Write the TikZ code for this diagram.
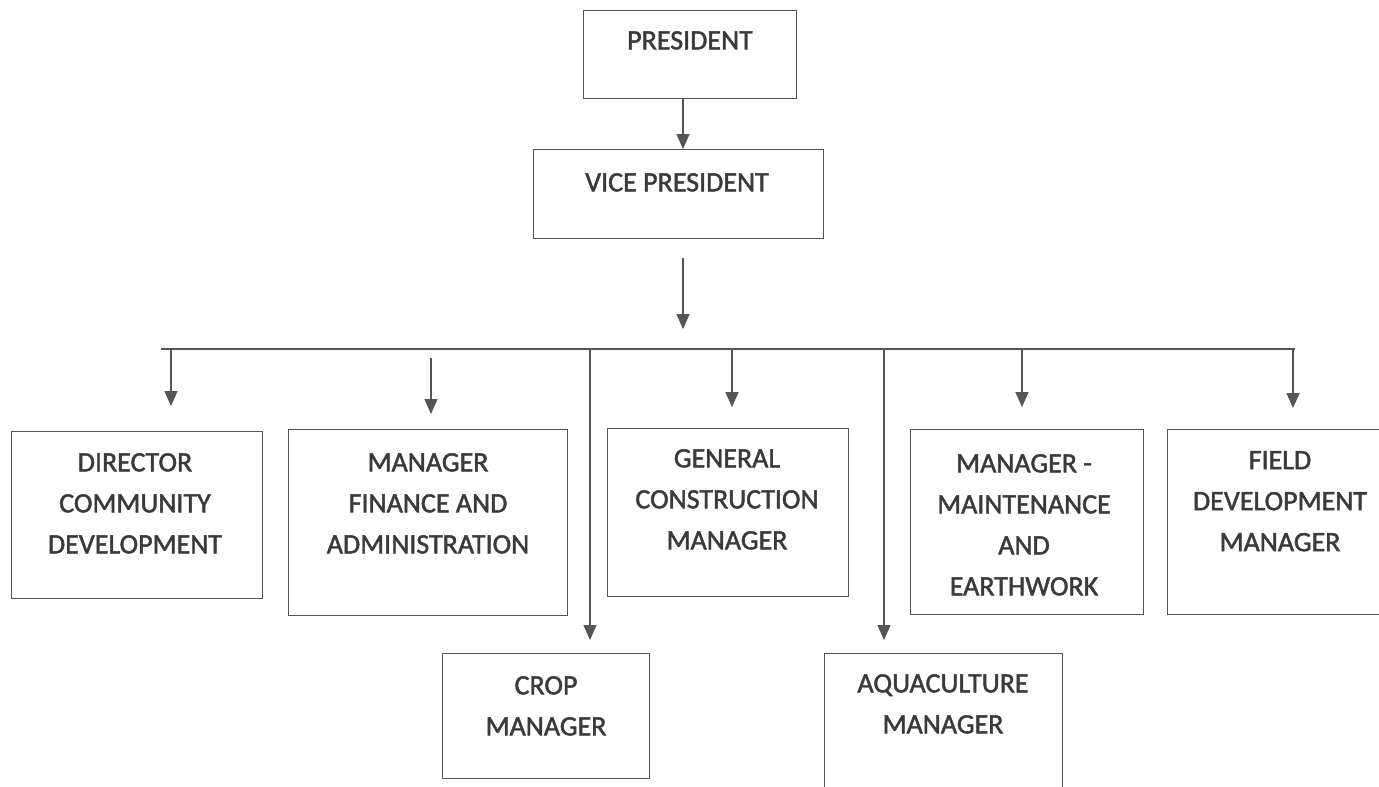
\documentclass[tikz,border=0pt]{standalone}
\usepackage{fontspec}
\setmainfont{Carlito}[FakeBold=1.6]
\usetikzlibrary{arrows.meta}
\definecolor{linegray}{HTML}{555555}
\definecolor{txtgray}{HTML}{3A3A3A}
\tikzset{
  boxnode/.style={draw=linegray, line width=1.3pt, rectangle, inner sep=0pt, anchor=north west},
  lbl/.style={font=\fontsize{28}{41}\selectfont, text=txtgray, align=center, inner sep=0pt, anchor=north},
  conn/.style={draw=linegray, line width=1.4pt},
  arr/.style={conn, -{Triangle[width=13pt,length=15pt]}}
}
\newcommand{\orgbox}[5]{% name, x1, y1, x2, y2
  \node[boxnode, minimum width=#4pt-#2pt, minimum height=#5pt-#3pt] (#1) at (#2,#3) {};}
\begin{document}
\begin{tikzpicture}[x=1pt, y=-1pt]
\useasboundingbox (0,0) rectangle (1379,787);
\clip (0,0) rectangle (1379,787);
\fill[white] (0,0) rectangle (1379,787);

% boxes
\orgbox{pres}{583}{10}{796}{98}
\orgbox{vp}{533}{149}{823}{238}
\orgbox{dcd}{11}{431}{262}{598}
\orgbox{mfa}{288}{429}{567}{615}
\orgbox{gcm}{607}{428}{848}{596}
\orgbox{mme}{910}{429}{1143}{614}
\orgbox{fdm}{1167}{429}{1400}{614}
\orgbox{crop}{442}{653}{649}{778}
\orgbox{aqua}{824}{653}{1062}{800}

% texts
\node[lbl] (pres-t) at (690,31) {PRESIDENT};
\node[lbl] (vp-t) at (677,173) {VICE PRESIDENT};
\node[lbl] (dcd-t) at (135,453) {DIRECTOR\\COMMUNITY\\DEVELOPMENT};
\node[lbl] (mfa-t) at (428,453) {MANAGER\\FINANCE AND\\ADMINISTRATION};
\node[lbl] (gcm-t) at (727,449) {GENERAL\\CONSTRUCTION\\MANAGER};
\node[lbl] (mme-t) at (1024,454) {MANAGER -\\MAINTENANCE\\AND\\EARTHWORK};
\node[lbl] (fdm-t) at (1280,451) {FIELD\\DEVELOPMENT\\MANAGER};
\node[lbl] (crop-t) at (546,676) {CROP\\MANAGER};
\node[lbl] (aqua-t) at (943,674) {AQUACULTURE\\MANAGER};

% coordinates
\coordinate (pv) at (683,0);
\coordinate (vpa) at (683,258);
\coordinate (vpb) at (683,329);
\coordinate (busL) at (161,349);
\coordinate (busR) at (1295,349);
\coordinate (t1) at (171,406);
\coordinate (t2s) at (431,358);
\coordinate (t2) at (431,414);
\coordinate (t3) at (590,640);
\coordinate (t4) at (732,407);
\coordinate (t5) at (884,640);
\coordinate (t6) at (1022,407);
\coordinate (t7) at (1293,408);

% connectors
\draw[arr] (pres.south -| pv) -- (vp.north -| pv);
\draw[arr] (vpa) -- (vpb);
\draw[conn] (busL) -- (busR);
\draw[arr] (t1 |- busL) -- (t1);
\draw[arr] (t2s) -- (t2);
\draw[arr] (t3 |- busL) -- (t3);
\draw[arr] (t4 |- busL) -- (t4);
\draw[arr] (t5 |- busL) -- (t5);
\draw[arr] (t6 |- busL) -- (t6);
\draw[arr] (t7 |- busL) -- (t7);
\end{tikzpicture}
\end{document}
